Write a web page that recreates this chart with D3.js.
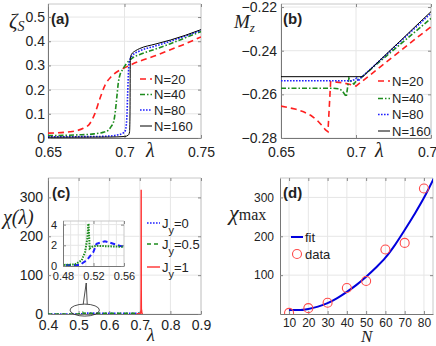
<!DOCTYPE html>
<html>
<head>
<meta charset="utf-8">
<script src="https://cdn.jsdelivr.net/npm/d3@7"></script>
<style>
body { margin: 0; background: #fff; }
text { font-family: "Liberation Sans", Arial, sans-serif; fill: #222; }
.sym { font-family: "Liberation Serif", "Times New Roman", serif; font-style: italic; }
.tag { font-weight: bold; font-size: 15px; }
</style>
</head>
<body>
<script>
// ---- (a) zeta_S vs lambda
var lamA20 = [0.65, 0.6644, 0.6731, 0.6775, 0.6807, 0.684, 0.6873, 0.6912, 0.697, 0.70, 0.705, 0.71, 0.72, 0.73, 0.74, 0.75];
var zetaA20 = [0.02, 0.026, 0.04, 0.061, 0.102, 0.164, 0.219, 0.253, 0.281, 0.29, 0.305, 0.318, 0.34, 0.365, 0.39, 0.418];
var lamA40 = [0.65, 0.66, 0.67, 0.68, 0.685, 0.689, 0.691, 0.693, 0.694, 0.695, 0.696, 0.697, 0.699, 0.701, 0.705, 0.71, 0.72, 0.73, 0.74, 0.75];
var zetaA40 = [0.01, 0.011, 0.013, 0.017, 0.022, 0.03, 0.045, 0.07, 0.11, 0.17, 0.23, 0.26, 0.285, 0.305, 0.33, 0.345, 0.367, 0.39, 0.415, 0.44];
var lamA80 = [0.65, 0.68, 0.69, 0.695, 0.699, 0.7005, 0.7015, 0.702, 0.7025, 0.703, 0.705, 0.71, 0.72, 0.73, 0.74, 0.75];
var zetaA80 = [0.005, 0.006, 0.008, 0.012, 0.02, 0.03, 0.08, 0.17, 0.26, 0.31, 0.34, 0.36, 0.38, 0.40, 0.422, 0.445];
var lamA160 = [0.65, 0.69, 0.70, 0.7025, 0.7033, 0.7036, 0.7038, 0.7045, 0.707, 0.71, 0.72, 0.73, 0.74, 0.75];
var zetaA160 = [0.003, 0.004, 0.006, 0.012, 0.025, 0.1, 0.33, 0.345, 0.36, 0.37, 0.388, 0.405, 0.425, 0.448];

// ---- (b) M_z vs lambda
var lamB20 = [0.65, 0.66, 0.665, 0.67, 0.674, 0.677, 0.6797, 0.6813, 0.6831, 0.687, 0.691, 0.695, 0.70, 0.71, 0.72, 0.73, 0.74, 0.75];
var mzB20 = [-0.2654, -0.2668, -0.268, -0.2697, -0.2718, -0.274, -0.2763, -0.2771, -0.2542, -0.2544, -0.2547, -0.2553, -0.2562, -0.2508, -0.2453, -0.2399, -0.2344, -0.229];
var lamB40 = [0.65, 0.685, 0.689, 0.691, 0.6935, 0.6953, 0.6972, 0.6986, 0.7005, 0.703, 0.71, 0.72, 0.73, 0.74, 0.75];
var mzB40 = [-0.2572, -0.2572, -0.2575, -0.2585, -0.2611, -0.2525, -0.2545, -0.2553, -0.2535, -0.2525, -0.2484, -0.2426, -0.2368, -0.231, -0.2252];
var lamB80 = [0.65, 0.697, 0.699, 0.7005, 0.7015, 0.703, 0.704, 0.71, 0.72, 0.73, 0.74, 0.75];
var mzB80 = [-0.2538, -0.2538, -0.2533, -0.2525, -0.254, -0.2525, -0.252, -0.2482, -0.2419, -0.2355, -0.2292, -0.2228];
var lamB160 = [0.65, 0.7045, 0.71, 0.72, 0.73, 0.74, 0.75];
var mzB160 = [-0.2519, -0.2519, -0.2483, -0.2417, -0.2352, -0.2286, -0.2221];

// ---- (c) chi vs lambda
var lamJ0 = [0.40, 0.45, 0.48, 0.50, 0.502, 0.511, 0.5198, 0.524, 0.535, 0.546, 0.557, 0.56, 0.60, 0.65, 0.70];
var chiJ0 = [0.05, 0.08, 0.1, 0.1, 0.1, 0.55, 1.35, 2.15, 2.4, 2.15, 1.9, 1.85, 1.8, 1.8, 1.8];
var lamJ05 = [0.40, 0.45, 0.48, 0.4957, 0.5045, 0.5089, 0.5119, 0.5132, 0.5135, 0.515, 0.5176, 0.524, 0.56, 0.60, 0.65, 0.70];
var chiJ05 = [0.05, 0.08, 0.1, 0.15, 0.55, 1.35, 2.65, 3.95, 4.1, 1.7, 1.85, 1.95, 1.85, 1.85, 1.85, 1.85];
var lamJ1 = [0.69, 0.70, 0.703, 0.7038, 0.7042, 0.7045, 0.7048, 0.7052, 0.706, 0.7068, 0.708, 0.71];
var chiJ1 = [0.5, 1, 3, 12, 60, 320, 60, 12, 10, 3, 1, 0.5];

// ---- (d) chi_max vs N
var sizesN = [10, 20, 30, 40, 50, 60, 70, 80];
var chiMax = [3, 15, 29, 67, 85, 166, 183, 323];
var fitN = [10, 15, 20, 25, 30, 35, 40, 45, 50, 55, 60, 65, 70, 75, 80, 85];
var fitChi = [10, 10, 13, 19, 28, 41, 57, 75, 96, 119, 145, 178, 216, 256, 299, 348];

var red = "#ff1f1f", green = "#1e8c1e", blue = "#2020ff";

var svg = d3.select("body").append("svg").attr("width", 436).attr("height", 346);
var clipId = 0;

function panel(o) {
  var x = d3.scaleLinear().domain(o.xd).range([o.l, o.r]);
  var y = d3.scaleLinear().domain(o.yd).range([o.b, o.t]);
  var g = svg.append("g");
  var fs = o.fs || 13;

  g.append("rect").attr("x", o.l).attr("y", o.t).attr("width", o.r - o.l).attr("height", o.b - o.t).attr("fill", "#fff");

  g.selectAll(null).data(o.xg || o.xt).join("line")
    .attr("x1", d => x(d)).attr("x2", d => x(d)).attr("y1", o.t).attr("y2", o.b)
    .attr("stroke", "#e6e6e6");
  g.selectAll(null).data(o.yg || o.yt).join("line")
    .attr("y1", d => y(d)).attr("y2", d => y(d)).attr("x1", o.l).attr("x2", o.r)
    .attr("stroke", "#e6e6e6");

  g.append("path").attr("d", "M" + o.l + "," + o.t + "H" + o.r + "V" + o.b)
    .attr("fill", "none").attr("stroke", "#c8c8c8");

  g.append("g").attr("transform", "translate(0," + o.b + ")")
    .call(d3.axisBottom(x).tickValues(o.xt).tickFormat(o.xf).tickSize(-3).tickSizeOuter(0).tickPadding(o.xpad));
  g.append("g").attr("transform", "translate(" + o.l + ",0)")
    .call(d3.axisLeft(y).tickValues(o.yt).tickFormat(o.yf).tickSize(-3).tickSizeOuter(0).tickPadding(o.ypad));
  g.append("g").attr("transform", "translate(0," + o.t + ")")
    .call(d3.axisTop(x).tickValues(o.xt).tickFormat("").tickSize(-3).tickSizeOuter(0))
    .select(".domain").remove();
  g.append("g").attr("transform", "translate(" + o.r + ",0)")
    .call(d3.axisRight(y).tickValues(o.yt).tickFormat("").tickSize(-3).tickSizeOuter(0))
    .select(".domain").remove();

  g.selectAll(".domain").attr("stroke", "#777");
  g.selectAll(".tick line").attr("stroke", "#888");
  g.selectAll(".tick text").attr("font-size", fs).attr("font-family", "Liberation Sans, Arial, sans-serif").attr("fill", "#222");

  var id = "clip" + (clipId++);
  g.append("clipPath").attr("id", id).append("rect")
    .attr("x", o.l).attr("y", o.t).attr("width", o.r - o.l).attr("height", o.b - o.t);
  var plot = g.append("g").attr("clip-path", "url(#" + id + ")");
  return { x: x, y: y, g: g, plot: plot };
}

function curve(p, xs, ys, color, width, dash, kind) {
  var line = d3.line().x(d => p.x(d[0])).y(d => p.y(d[1])).curve(kind || d3.curveLinear);
  p.plot.append("path").datum(d3.zip(xs, ys)).attr("d", line)
    .attr("fill", "none").attr("stroke", color).attr("stroke-width", width)
    .attr("stroke-dasharray", dash || null);
}

function legendRow(g, x0, x1, yc, color, width, dash, label, fs) {
  g.append("line").attr("x1", x0).attr("x2", x1).attr("y1", yc).attr("y2", yc)
    .attr("stroke", color).attr("stroke-width", width).attr("stroke-dasharray", dash || null);
  return g.append("text").attr("x", x1 + 2).attr("y", yc).attr("dy", "0.36em").attr("font-size", fs).text(label);
}

var styles = [
  { c: red, w: 1.6, d: "6,4" },
  { c: green, w: 1.6, d: "5,2,1.5,2" },
  { c: blue, w: 1.6, d: "1.6,1.4" },
  { c: "#000", w: 1, d: null }
];
var labelsN = ["N=20", "N=40", "N=80", "N=160"];

// ---------- panel (a)
var pa = panel({
  l: 48, r: 201, t: 4, b: 138, xd: [0.65, 0.75], yd: [0, 0.554],
  xt: [0.65, 0.7, 0.75], yt: [0, 0.1, 0.2, 0.3, 0.4, 0.5],
  xf: d3.format(".2~f"), yf: d3.format(".1~f"), xpad: 9, ypad: 3, fs: 14
});
[[lamA20, zetaA20], [lamA40, zetaA40], [lamA80, zetaA80], [lamA160, zetaA160]].forEach(function (s, i) {
  curve(pa, s[0], s[1], styles[i].c, styles[i].w, styles[i].d, d3.curveMonotoneX);
});
[79, 94.5, 110, 126].forEach(function (yc, i) {
  legendRow(pa.g, 140, 152, yc, styles[i].c, styles[i].w, styles[i].d, labelsN[i], 13);
});
pa.g.append("text").attr("class", "tag").attr("x", 51).attr("y", 24).text("(a)");
var za = pa.g.append("text").attr("class", "sym").attr("x", 9).attr("y", 28).attr("font-size", 21).text("ζ");
za.append("tspan").attr("font-size", 14).attr("dy", 3).text("S");
pa.g.append("text").attr("class", "sym").attr("x", 146).attr("y", 157).attr("font-size", 20).text("λ");

// ---------- panel (b)
var pb = panel({
  l: 281, r: 431, t: 4, b: 138, xd: [0.65, 0.75], yd: [-0.28, -0.2186],
  xt: [0.65, 0.7, 0.75], yt: [-0.28, -0.26, -0.24, -0.22],
  xf: d3.format(".2~f"), yf: d3.format(".2f"), xpad: 9, ypad: 4, fs: 14
});
[[lamB20, mzB20], [lamB40, mzB40], [lamB80, mzB80], [lamB160, mzB160]].forEach(function (s, i) {
  curve(pb, s[0], s[1], styles[i].c, styles[i].w, styles[i].d);
});
[81, 98.5, 114.5, 131].forEach(function (yc, i) {
  legendRow(pb.g, 378, 390, yc, styles[i].c, styles[i].w, styles[i].d, labelsN[i], 13);
});
pb.g.append("text").attr("class", "tag").attr("x", 283).attr("y", 24).text("(b)");
var mb = pb.g.append("text").attr("class", "sym").attr("x", 234).attr("y", 28).attr("font-size", 19).text("M");
mb.append("tspan").attr("font-size", 13).attr("dy", 4).text("z");
pb.g.append("text").attr("class", "sym").attr("x", 375).attr("y", 157).attr("font-size", 20).text("λ");

// ---------- panel (c)
var pc = panel({
  l: 48, r: 201, t: 178, b: 314, xd: [0.4, 0.9], yd: [0, 350],
  xt: [0.4, 0.5, 0.6, 0.7, 0.8, 0.9], yt: [0, 100, 200, 300],
  xf: d3.format(".1f"), yf: d3.format("d"), xpad: 6, ypad: 5, fs: 14
});
curve(pc, lamJ0, chiJ0, blue, 1.6, "1.6,1.4");
curve(pc, lamJ05, chiJ05, green, 1.6, "4,3");
curve(pc, lamJ1, chiJ1, "#ff3030", 1.4, null);

// magnifier marker and callout
pc.g.append("ellipse")
  .attr("cx", pc.x(0.52)).attr("cy", pc.y(10))
  .attr("rx", pc.x(0.568) - pc.x(0.52)).attr("ry", 6)
  .attr("fill", "none").attr("stroke", "#222").attr("stroke-width", 0.8);
pc.g.append("path")
  .attr("d", "M" + (pc.x(0.52) - 1.5) + "," + (pc.y(10) - 6) + "L" + (pc.x(0.52) + 1.5) + ",283L" + (pc.x(0.52) + 2.5) + "," + (pc.y(10) - 6))
  .attr("fill", "none").attr("stroke", "#222").attr("stroke-width", 0.8);

// inset
var pi = panel({
  l: 63, r: 124, t: 221, b: 266, xd: [0.48, 0.56], yd: [0, 4.35],
  xt: [0.48, 0.52, 0.56], yt: [0, 2, 4], xg: [0.49, 0.50, 0.51, 0.52, 0.53, 0.54, 0.55], yg: [1, 2, 3, 4],
  xf: d3.format(".2f"), yf: d3.format("d"), xpad: 6, ypad: 6, fs: 11
});
curve(pi, lamJ0, chiJ0, blue, 2, "5,3");
curve(pi, lamJ05, chiJ05, green, 2, "1.5,1.2");

var lc = pc.g;
[[223, blue, 1.6, "1.6,1.4", "0"], [244, green, 1.6, "4,3", "0.5"], [267, "#ff3030", 1.4, null, "1"]].forEach(function (r) {
  var t = legendRow(lc, 147, 160, r[0], r[1], r[2], r[3], "J", 13);
  t.append("tspan").attr("font-size", 11).attr("dy", 6).text("y");
  t.append("tspan").attr("dy", -6).text("=" + r[4]);
});
pc.g.append("text").attr("class", "tag").attr("x", 52).attr("y", 198).text("(c)");
pc.g.append("text").attr("class", "sym").attr("x", 3).attr("y", 224).attr("font-size", 20).text("χ(λ)");
pc.g.append("text").attr("class", "sym").attr("x", 147).attr("y", 341).attr("font-size", 18).text("λ");

// ---------- panel (d)
var pd = panel({
  l: 280, r: 433, t: 178, b: 314, xd: [5.3, 84.7], yd: [0, 350],
  xt: [10, 20, 30, 40, 50, 60, 70, 80], yt: [100, 200, 300],
  xf: d3.format("d"), yf: d3.format("d"), xpad: 4, ypad: 6, fs: 12
});
curve(pd, fitN, fitChi, "#0000dd", 2, null, d3.curveMonotoneX);
pd.plot.selectAll(null).data(d3.zip(sizesN, chiMax)).join("circle")
  .attr("cx", d => pd.x(d[0])).attr("cy", d => pd.y(d[1])).attr("r", 4.5)
  .attr("fill", "none").attr("stroke", "#ff4a4a").attr("stroke-width", 1.1);
legendRow(pd.g, 291, 303, 237, "#0000dd", 2, null, "fit", 13);
pd.g.append("circle").attr("cx", 297).attr("cy", 254).attr("r", 4.5)
  .attr("fill", "none").attr("stroke", "#ff4a4a").attr("stroke-width", 1.1);
pd.g.append("text").attr("x", 305).attr("y", 254).attr("dy", "0.36em").attr("font-size", 13).text("data");
pd.g.append("text").attr("class", "tag").attr("x", 283).attr("y", 198).text("(d)");
var dl = pd.g.append("text").attr("class", "sym").attr("x", 229).attr("y", 220).attr("font-size", 22).text("χ");
dl.append("tspan").attr("font-style", "normal").attr("font-size", 16).text("max");
pd.g.append("text").attr("class", "sym").attr("x", 361).attr("y", 342).attr("font-size", 17).text("N");
</script>
</body>
</html>
